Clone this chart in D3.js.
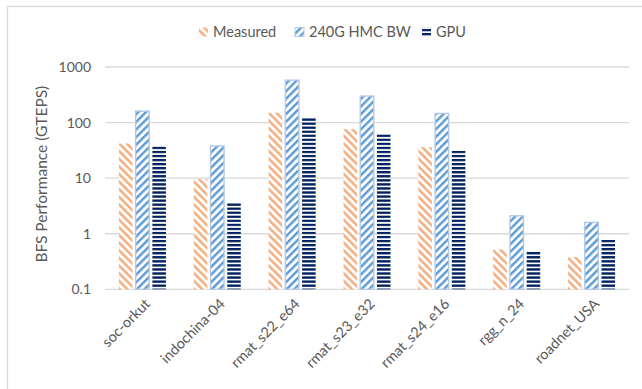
<!DOCTYPE html>
<html><head><meta charset="utf-8">
<script src="https://cdn.jsdelivr.net/npm/d3@7"></script>
<style>
html,body{margin:0;padding:0;background:#fff;}
svg{display:block;font-family:Lato,"Open Sans",sans-serif;}
</style></head>
<body>
<svg id="chart" width="642" height="389"></svg>
<script>
const categories = ["soc-orkut","indochina-04","rmat_s22_e64","rmat_s23_e32","rmat_s24_e16","rgg_n_24","roadnet_USA"];
const seriesNames = ["Measured","240G HMC BW","GPU"];
const measured = [42, 9.6, 150, 76, 36, 0.52, 0.38];
const hmcBW   = [161, 38, 580, 300, 146, 2.1, 1.6];
const gpu     = [38, 3.7, 122, 62, 31, 0.47, 0.77];
const yTicks  = [0.1, 1, 10, 100, 1000];
const yTickLabels = ["0.1","1","10","100","1000"];
const yTitle = "BFS Performance (GTEPS)";

const seriesValues = [measured, hmcBW, gpu];
const svg = d3.select("#chart");
const W = 642, H = 389;
const plot = {left:105, right:629, top:67, bottom:289.3};

// chart border
svg.append("rect").attr("x",7.5).attr("y",6.5).attr("width",W).attr("height",H)
  .attr("fill","none").attr("stroke","#D9D9D9").attr("stroke-width",1.3);

// patterns
const defs = svg.append("defs");
function diag(id, color, angle, period, sw){
  const p = defs.append("pattern").attr("id",id).attr("patternUnits","userSpaceOnUse")
    .attr("width",period).attr("height",period).attr("patternTransform",`rotate(${angle})`);
  p.append("rect").attr("width",period).attr("height",period).attr("fill","#fff");
  p.append("rect").attr("x",0).attr("y",0).attr("width",sw).attr("height",period).attr("fill",color);
}
diag("pMeas","#F4B183",-45,5.4,2.6);
diag("pHmc","#5B9BD5",45,5.4,2.4);
const pg = defs.append("pattern").attr("id","pGpu").attr("patternUnits","userSpaceOnUse")
  .attr("width",8).attr("height",4.05).attr("y",1);
pg.append("rect").attr("width",8).attr("height",4.05).attr("fill","#fff");
pg.append("rect").attr("y",0).attr("width",8).attr("height",2.3).attr("fill","#002060");

const fills = ["url(#pMeas)","url(#pHmc)","url(#pGpu)"];
const strokes = ["none","#B4C7E7","none"];

const x0 = d3.scaleBand().domain(categories).range([plot.left, plot.right])
  .paddingInner(0.372).paddingOuter(0.186);
const x1 = d3.scaleBand().domain(seriesNames).range([0, x0.bandwidth()])
  .paddingInner(0.19).paddingOuter(0);
const y = d3.scaleLog().domain([0.1,1000]).range([plot.bottom, plot.top]);

// gridlines
svg.append("g").selectAll("line").data(yTicks).join("line")
  .attr("x1",plot.left).attr("x2",plot.right)
  .attr("y1",d=>y(d)).attr("y2",d=>y(d))
  .attr("stroke","#D9D9D9").attr("stroke-width",1.3);

// y axis labels
const yAxis = d3.axisLeft(y).tickValues(yTicks).tickFormat((d,i)=>yTickLabels[i]).tickSize(0).tickPadding(0);
const gy = svg.append("g").attr("transform",`translate(${plot.left-14},0)`).call(yAxis);
gy.select(".domain").remove();
gy.selectAll("text").attr("fill","#595959").attr("font-size","14px").attr("font-family","Lato,'Open Sans',sans-serif");

// y title
svg.append("text").attr("transform",`translate(47,${(plot.top+plot.bottom)/2-4}) rotate(-90)`)
  .attr("text-anchor","middle").attr("fill","#595959").attr("font-size","15.5px").text(yTitle);

// bars
const groups = svg.append("g").selectAll("g").data(categories).join("g")
  .attr("transform",d=>`translate(${x0(d)},0)`);
groups.selectAll("rect").data((c,ci)=>seriesNames.map((s,si)=>({s,si,v:seriesValues[si][ci]})))
  .join("rect")
  .attr("x",d=>x1(d.s)).attr("width",x1.bandwidth())
  .attr("y",d=>y(d.v)).attr("height",d=>plot.bottom-y(d.v))
  .attr("fill",d=>fills[d.si]).attr("stroke",d=>strokes[d.si]).attr("stroke-width",1.4);

// x axis labels
const xAxis = d3.axisBottom(x0).tickSize(0).tickPadding(0);
const gx = svg.append("g").attr("transform",`translate(0,${plot.bottom})`).call(xAxis);
gx.select(".domain").remove();
gx.selectAll("text").attr("fill","#595959").attr("font-size","14.5px")
  .attr("font-family","Lato,'Open Sans',sans-serif")
  .attr("text-anchor","end").attr("dy","0.35em")
  .attr("transform","translate(5,12) rotate(-45)");

// legend
const legX = [199, 295, 422];
const leg = svg.append("g").selectAll("g").data(seriesNames).join("g")
  .attr("transform",(d,i)=>`translate(${legX[i]},32)`);
leg.append("rect").attr("x",0).attr("y",-4.5).attr("width",9).attr("height",9)
  .attr("fill",(d,i)=>fills[i]).attr("stroke",(d,i)=>strokes[i]).attr("stroke-width",1);
leg.append("text").attr("x",14).attr("y",0).attr("dy","0.35em")
  .attr("fill","#595959").attr("font-size","14.5px").text(d=>d);
</script>
</body></html>
